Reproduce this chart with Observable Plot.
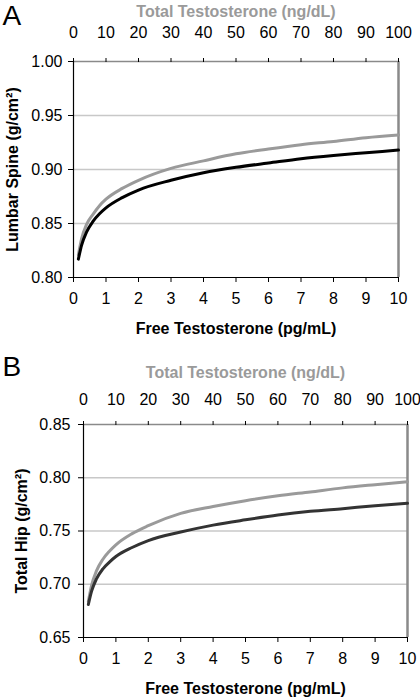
<!DOCTYPE html>
<html>
<head>
<meta charset="utf-8">
<script src="https://cdn.jsdelivr.net/npm/d3@7"></script>
<script src="https://cdn.jsdelivr.net/npm/@observablehq/plot@0.6"></script>
<style>
  html, body { margin: 0; padding: 0; background: #fff; }
  #chart { width: 420px; }
  #chart svg { display: block; overflow: visible; }
  #chart svg [aria-label$="tick label"] { font-size: 16px; }
</style>
</head>
<body>
<div id="chart"></div>
<script>
// ---- data ----
const freeT = [0.15, 0.25, 0.4, 0.6, 0.8, 1, 1.5, 2, 3, 4, 5, 6, 7, 8, 9, 10];
const spineGray  = [0.821, 0.836, 0.849, 0.8585, 0.8665, 0.8725, 0.8825, 0.890, 0.901, 0.908, 0.9145, 0.919, 0.923, 0.926, 0.9295, 0.932];
const spineBlack = [0.817, 0.830, 0.842, 0.852, 0.859, 0.8645, 0.874, 0.881, 0.890, 0.897, 0.902, 0.906, 0.910, 0.913, 0.9155, 0.918];
const hipGray  = [0.684, 0.699, 0.7125, 0.7235, 0.731, 0.737, 0.7475, 0.755, 0.7665, 0.773, 0.7785, 0.783, 0.7867, 0.7905, 0.7935, 0.7963];
const hipBlack = [0.681, 0.6935, 0.705, 0.7145, 0.7208, 0.726, 0.7345, 0.741, 0.749, 0.7555, 0.7605, 0.765, 0.7685, 0.771, 0.7737, 0.776];

const freeTicks = [0, 1, 2, 3, 4, 5, 6, 7, 8, 9, 10];
const totalTicks = [0, 10, 20, 30, 40, 50, 60, 70, 80, 90, 100];
const spineTicks = [0.80, 0.85, 0.90, 0.95, 1.00];
const hipTicks = [0.65, 0.70, 0.75, 0.80, 0.85];

const xTitle = "Free Testosterone (pg/mL)";
const topTitle = "Total Testosterone (ng/dL)";
const spineTitle = "Lumbar Spine (g/cm²)";
const hipTitle = "Total Hip (g/cm²)";

const FONT = "'Liberation Sans', Arial, sans-serif";

function panel(opts) {
  const {letter, yTicks, yTitle, gray, black, blackColor, height, mt, ml, mr, mb,
         topPad, yPad, titleDy, yTitleDx} = opts;
  const rows = [];
  freeT.forEach((x, i) => {
    rows.push({x, y: gray[i], s: "gray"});
    rows.push({x, y: black[i], s: "black"});
  });
  const y0 = yTicks[0], y1 = yTicks[yTicks.length - 1];
  return Plot.plot({
    width: 420, height,
    marginTop: mt, marginLeft: ml, marginRight: mr, marginBottom: mb,
    style: {fontFamily: FONT, fontSize: "16px", color: "#000", background: "#fff", overflow: "visible"},
    x: {domain: [0, 10]},
    y: {domain: [y0, y1]},
    marks: [
      Plot.ruleY(yTicks.slice(1, -1), {stroke: "#c8c8c8", strokeWidth: 1.5}),
      Plot.ruleY([y1], {stroke: "#8a8a8a", strokeWidth: 1.5}),
      Plot.ruleX([10], {stroke: "#8a8a8a", strokeWidth: 2.5}),
      Plot.line(rows.filter(d => d.s === "gray"), {x: "x", y: "y", stroke: "#9a9a9a", strokeWidth: 3, curve: "monotone-x"}),
      Plot.line(rows.filter(d => d.s === "black"), {x: "x", y: "y", stroke: blackColor, strokeWidth: 3, curve: "monotone-x"}),
      Plot.ruleX([0], {stroke: "#000", strokeWidth: 1.2}),
      Plot.ruleY([y0], {stroke: "#000", strokeWidth: 1.2}),
      Plot.axisY(yTicks, {tickSize: 5, tickPadding: yPad, tickFormat: d3.format(".2f"), label: null}),
      Plot.axisX(freeTicks, {anchor: "bottom", tickSize: 5, tickPadding: 10, tickFormat: d => String(d), label: null}),
      Plot.axisX(totalTicks.map(t => t / 10), {anchor: "top", tickSize: 4, tickPadding: topPad,
        tickFormat: d => String(totalTicks[Math.round(d)]), label: null}),
      Plot.text([xTitle], {frameAnchor: "bottom", lineAnchor: "middle", dy: 51, fontWeight: "bold", fontSize: 16, fill: "#000"}),
      Plot.text([topTitle], {frameAnchor: "top", lineAnchor: "middle", dy: titleDy, fontWeight: "bold", fontSize: 16, fill: "#9a9a9a"}),
      Plot.text([yTitle], {frameAnchor: "left", textAnchor: "middle", lineAnchor: "middle", dx: yTitleDx, rotate: -90, fontWeight: "bold", fontSize: 16, fill: "#000"}),
      Plot.text([letter], {frameAnchor: "top-left", dx: 2 - ml, dy: opts.letterDy, textAnchor: "start", lineAnchor: "top", fontSize: 28, fill: "#000"})
    ]
  });
}

const chart = document.getElementById("chart");
chart.append(panel({
  letter: "A", yTicks: spineTicks, yTitle: spineTitle, gray: spineGray, black: spineBlack,
  blackColor: "#000", height: 340, mt: 61, ml: 73, mr: 22, mb: 63,
  topPad: 20, yPad: 6, titleDy: -50, yTitleDx: -60.5, letterDy: -56
}));
chart.append(panel({
  letter: "B", yTicks: hipTicks, yTitle: hipTitle, gray: hipGray, black: hipBlack,
  blackColor: "#333", height: 360, mt: 84, ml: 83, mr: 13, mb: 63,
  topPad: 16, yPad: 8, titleDy: -52, yTitleDx: -61.3, letterDy: -68
}));
</script>
</body>
</html>
